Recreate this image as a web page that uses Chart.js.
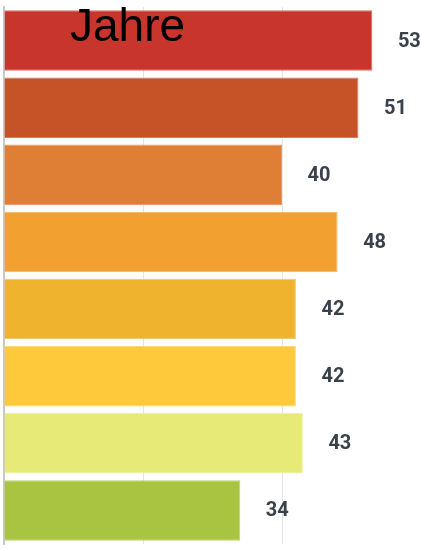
<!DOCTYPE html>
<html>
<head>
<meta charset="utf-8">
<script src="https://cdn.jsdelivr.net/npm/chart.js@4"></script>
<style>
  html, body { margin: 0; padding: 0; background: #fff; }
  #wrap { width: 421px; height: 549px; }
</style>
</head>
<body>
<div id="wrap"><canvas id="myChart"></canvas></div>
<script>
let label = ["1", "2", "3", "4", "5", "6", "7", "8"];
let values = [53, 51, 40, 48, 42, 42, 43, 34];
let color = ["#c8352d", "#c65228", "#df7e35", "#f2a02f", "#efb32d", "#fec93a", "#e8ea77", "#a9c440"];
let border = ["#d96b64", "#d57d5a", "#e89c64", "#f5b762", "#f3c55f", "#fed66a", "#eef09c", "#bfd372"];
let title = "Jahre";

// value labels right of the bars + title over the first bar
const labelsPlugin = {
  id: "labels",
  afterDatasetsDraw(chart) {
    const ctx = chart.ctx;
    const meta = chart.getDatasetMeta(0);
    ctx.save();
    ctx.font = "bold 20px Roboto, sans-serif";
    ctx.fillStyle = "#3a414b";
    ctx.textAlign = "center";
    ctx.textBaseline = "middle";
    meta.data.forEach((bar, i) => {
      ctx.fillText(values[i], bar.x + 37, bar.y + 1);
    });
    ctx.font = "46px 'Liberation Sans', Arial, sans-serif";
    ctx.fillStyle = "#000";
    ctx.textAlign = "left";
    ctx.textBaseline = "alphabetic";
    ctx.fillText(title, 70, 41);
    ctx.restore();
  },
};

const data = {
  labels: [...label],
  datasets: [
    {
      data: [...values],
      backgroundColor: [...color],
      borderColor: [...border],
      borderWidth: 1,
      categoryPercentage: 0.9,
      barPercentage: 1,
    },
  ],
};
const config = {
  type: "bar",
  data: data,
  options: {
    indexAxis: "y",
    animation: false,
    responsive: true,
    maintainAspectRatio: false,
    layout: { padding: { left: 4, right: 0, top: 7, bottom: 5 } },
    plugins: {
      legend: { display: false },
      tooltip: { enabled: false },
    },
    scales: {
      x: {
        min: 0,
        max: 60,
        ticks: { display: false, stepSize: 20 },
        grid: { color: "#e4e4e4", drawTicks: false },
        border: { display: false },
      },
      y: {
        ticks: { display: false },
        grid: { display: false, drawTicks: false },
        border: { display: true, color: "#c8c8c8", width: 2 },
      },
    },
  },
  plugins: [labelsPlugin],
};
var myChart = new Chart(document.getElementById("myChart"), config);
</script>
</body>
</html>
